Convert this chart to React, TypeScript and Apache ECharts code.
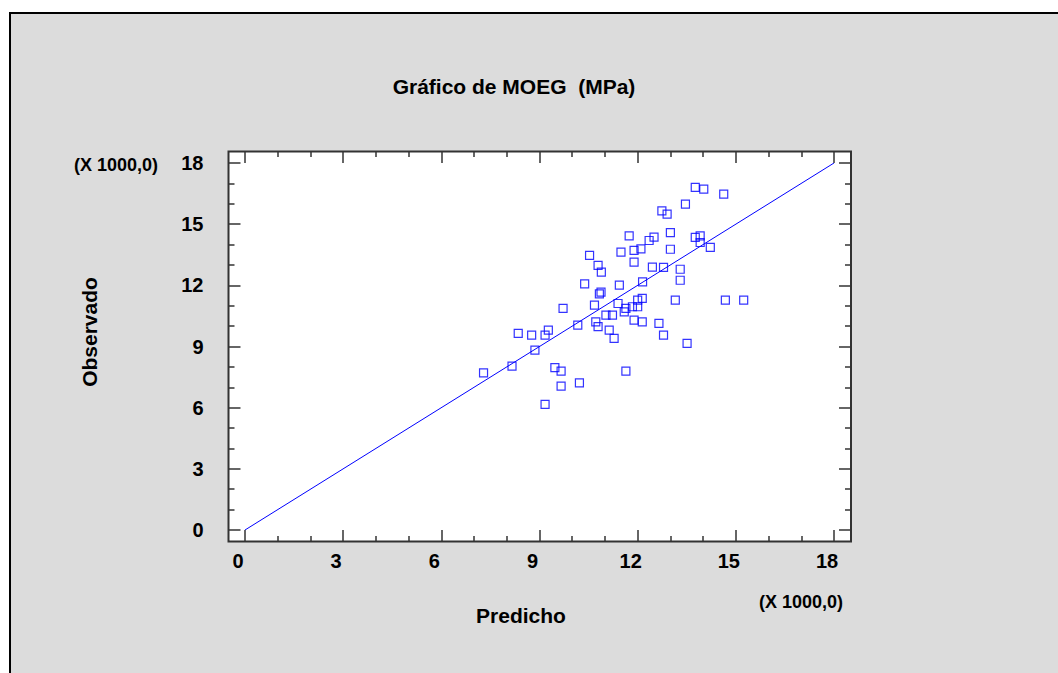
import React, { useEffect, useRef } from "react";
import * as echarts from "echarts";

// Values in thousands of MPa (axis note: X 1000,0)
const predicted: number[] = [
  11.74, 12.5, 12.35, 11.49, 11.89, 12.1, 10.53, 11.89, 10.79, 10.89, 12.45, 10.38, 11.44, 12.15,
  10.88, 10.83, 9.72, 10.68, 11.4, 12.0, 12.14, 11.64, 11.59, 11.84, 12.0, 11.03, 11.23, 10.72,
  10.79, 10.17, 11.89, 12.14, 12.65, 11.13, 11.28, 9.27, 9.17, 8.76, 8.35, 8.86, 8.16, 7.29, 9.47,
  9.66, 11.64, 9.66, 10.22, 9.17, 13.76, 14.02, 14.63, 13.46, 12.74, 12.9, 13.0, 13.76, 13.91,
  13.91, 14.22, 13.0, 12.79, 13.3, 13.3, 13.15, 14.68, 15.24, 12.79, 13.51,
];
const observed: number[] = [
  14.43, 14.36, 14.2, 13.63, 13.71, 13.79, 13.47, 13.14, 12.98, 12.65, 12.89, 12.07, 12.01, 12.17,
  11.67, 11.58, 10.87, 11.03, 11.11, 11.27, 11.36, 10.87, 10.7, 10.95, 10.95, 10.54, 10.54, 10.21,
  9.97, 10.05, 10.29, 10.21, 10.13, 9.8, 9.4, 9.8, 9.56, 9.56, 9.64, 8.82, 8.04, 7.71, 7.96, 7.79,
  7.79, 7.06, 7.22, 6.16, 16.8, 16.72, 16.47, 15.98, 15.65, 15.49, 14.59, 14.35, 14.43, 14.1,
  13.86, 13.77, 12.88, 12.79, 12.25, 11.27, 11.27, 11.27, 9.56, 9.15,
];
const fitLine: number[][] = [
  [0, 0],
  [18, 18],
];
const axisMin = 0;
const axisMax = 18;
const axisStep = 3;

const title = "Gráfico de MOEG  (MPa)";
const xName = "Predicho";
const yName = "Observado";
const scaleNote = "(X 1000,0)";

const FONT = "'Liberation Sans', Arial, sans-serif";
const FRAME = "#333333";

export default function App() {
  const ref = useRef<HTMLDivElement>(null);

  useEffect(() => {
    if (!ref.current) return;
    const chart = echarts.init(ref.current, null, { renderer: "svg" });
    const points = predicted
      .slice(0, Math.min(predicted.length, observed.length))
      .map((x, i) => [x, observed[i]]);

    const baseAxis = {
      type: "value" as const,
      min: axisMin,
      max: axisMax,
      interval: axisStep,
      axisLine: { show: false, onZero: false },
      splitLine: { show: false },
      axisTick: { show: true, inside: true, length: 12, lineStyle: { color: FRAME, width: 1.5 } },
      minorTick: { show: true, splitNumber: 3, length: 6, lineStyle: { color: FRAME, width: 1.5 } },
    };

    chart.setOption({
      animation: false,
      backgroundColor: "#ffffff",
      grid: { left: 245, right: 224, top: 163, bottom: 143, containLabel: false },
      xAxis: [
        {
          ...baseAxis,
          position: "bottom",
          offset: 12,
          axisLabel: {
            show: true,
            margin: 9,
            color: "#000",
            fontFamily: FONT,
            fontWeight: "bold",
            fontSize: 20,
            padding: [0, 14, 0, 0],
          },
        },
        { ...baseAxis, position: "top", offset: 12, axisLabel: { show: false } },
      ],
      yAxis: [
        {
          ...baseAxis,
          position: "left",
          offset: 16.5,
          axisLabel: {
            show: true,
            margin: 25,
            color: "#000",
            fontFamily: FONT,
            fontWeight: "bold",
            fontSize: 20,
          },
        },
        { ...baseAxis, position: "right", offset: 17, axisLabel: { show: false } },
      ],
      graphic: [
        {
          type: "rect",
          z: -10,
          shape: { x: 10, y: 13, width: 1060, height: 680 },
          style: { fill: "#dcdcdc", stroke: "#000000", lineWidth: 2 },
        },
        {
          type: "rect",
          z: -9,
          shape: { x: 228.5, y: 151.5, width: 622.5, height: 390 },
          style: { fill: "#ffffff" },
        },
        {
          type: "rect",
          z: 20,
          silent: true,
          shape: { x: 228.5, y: 151.5, width: 622.5, height: 390 },
          style: { fill: "none", stroke: FRAME, lineWidth: 2 },
        },
        {
          type: "text",
          x: 514,
          y: 86,
          style: {
            text: title,
            fill: "#000",
            font: `bold 21px ${FONT}`,
            textAlign: "center",
            textVerticalAlign: "middle",
          },
        },
        {
          type: "text",
          x: 521,
          y: 615,
          style: {
            text: xName,
            fill: "#000",
            font: `bold 21px ${FONT}`,
            textAlign: "center",
            textVerticalAlign: "middle",
          },
        },
        {
          type: "text",
          x: 89,
          y: 332,
          rotation: Math.PI / 2,
          style: {
            text: yName,
            fill: "#000",
            font: `bold 21px ${FONT}`,
            textAlign: "center",
            textVerticalAlign: "middle",
          },
        },
        {
          type: "text",
          x: 116,
          y: 165,
          style: {
            text: scaleNote,
            fill: "#000",
            font: `bold 18px ${FONT}`,
            textAlign: "center",
            textVerticalAlign: "middle",
          },
        },
        {
          type: "text",
          x: 801,
          y: 602,
          style: {
            text: scaleNote,
            fill: "#000",
            font: `bold 18px ${FONT}`,
            textAlign: "center",
            textVerticalAlign: "middle",
          },
        },
      ],
      series: [
        {
          type: "line",
          data: fitLine,
          showSymbol: false,
          symbol: "none",
          lineStyle: { color: "#0000ff", width: 1 },
          z: 3,
        },
        {
          type: "scatter",
          data: points,
          symbol: "rect",
          symbolSize: 8,
          itemStyle: { color: "rgba(0,0,0,0)", borderColor: "#0000ff", borderWidth: 1.2 },
          z: 4,
        },
      ],
    });
    return () => chart.dispose();
  }, []);

  return (
    <div
      ref={ref}
      style={{ position: "fixed", left: 0, top: 0, width: 1058, height: 673 }}
    />
  );
}
